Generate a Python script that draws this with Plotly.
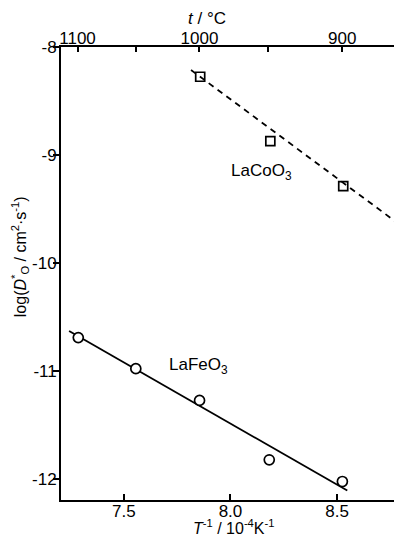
import plotly.graph_objects as go

# Data
co_x = [7.858, 8.187, 8.529]
co_y = [-8.275, -8.870, -9.287]
co_fit_x = [7.815, 8.80]
co_fit_y = [-8.213, -9.652]

fe_x = [7.286, 7.556, 7.855, 8.182, 8.525]
fe_y = [-10.688, -10.975, -11.269, -11.818, -12.019]
fe_fit_x = [7.243, 8.548]
fe_fit_y = [-10.627, -12.102]

x_ticks = [7.5, 8.0, 8.5]
x_ticklabels = ["7.5", "8.0", "8.5"]
y_ticks = [-8, -9, -10, -11, -12]
y_ticklabels = ["-8", "-9", "-10", "-11", "-12"]
top_temps_c = [1100, 1050, 1000, 950, 900]
top_ticklabels = ["1100", "", "1000", "", "900"]
top_tickvals = [1e4 / (t + 273.15) for t in top_temps_c]

x_range = [7.205, 8.80]
y_range = [-12.19, -8.0]

FONT = "Liberation Sans, Arial, sans-serif"
FS = 17

fig = go.Figure()
fig.add_trace(go.Scatter(x=co_fit_x, y=co_fit_y, mode="lines",
                         line=dict(color="black", width=1.8, dash="6px,5px"),
                         showlegend=False, hoverinfo="skip"))
fig.add_trace(go.Scatter(x=fe_fit_x, y=fe_fit_y, mode="lines",
                         line=dict(color="black", width=1.8),
                         showlegend=False, hoverinfo="skip"))
fig.add_trace(go.Scatter(x=co_x, y=co_y, mode="markers",
                         marker=dict(symbol="square-open", size=9, color="black",
                                     line=dict(width=1.7, color="black")),
                         showlegend=False))
fig.add_trace(go.Scatter(x=fe_x, y=fe_y, mode="markers",
                         marker=dict(symbol="circle", size=10, color="white",
                                     line=dict(width=1.7, color="black")),
                         showlegend=False))
# invisible trace to activate top axis
fig.add_trace(go.Scatter(x=[x_range[0]], y=[y_range[0]], xaxis="x2", mode="markers",
                         marker=dict(opacity=0), showlegend=False, hoverinfo="skip"))

fig.update_layout(
    width=394, height=531,
    margin=dict(l=53, r=1, t=39, b=39, autoexpand=False),
    paper_bgcolor="white", plot_bgcolor="white",
    font=dict(family=FONT, size=FS, color="black"),
    xaxis=dict(range=x_range, tickvals=x_ticks, ticktext=x_ticklabels,
               ticks="inside", ticklen=6, tickwidth=1.5, tickcolor="black",
               ticklabelstandoff=-5,
               showline=True, linecolor="black", linewidth=1.8, mirror=True,
               showgrid=False, zeroline=False,
               tickfont=dict(family=FONT, size=FS, color="black")),
    xaxis2=dict(range=x_range, overlaying="x", side="top",
                tickvals=top_tickvals, ticktext=top_ticklabels,
                ticks="inside", ticklen=5, tickwidth=1.5, tickcolor="black",
                ticklabelstandoff=-1,
                showline=False, showgrid=False, zeroline=False,
                tickfont=dict(family=FONT, size=FS, color="black")),
    yaxis=dict(range=y_range, tickvals=y_ticks, ticktext=y_ticklabels,
               ticks="outside", ticklen=6, tickwidth=1.5, tickcolor="black",
               ticklabelstandoff=-7,
               showline=True, linecolor="black", linewidth=1.8, mirror=True,
               showgrid=False, zeroline=False,
               tickfont=dict(family=FONT, size=FS, color="black")),
    annotations=[
        dict(text="<i>t</i> / °C", xref="paper", yref="paper", x=0.429, y=1.0,
             yshift=29, showarrow=False, font=dict(size=FS), xanchor="center", yanchor="middle"),
        dict(text="<i>T</i><sup>-1</sup> / 10<sup>-4</sup>K<sup>-1</sup>", xref="paper", yref="paper",
             x=0.506, y=0, yshift=-27, showarrow=False, font=dict(size=16),
             xanchor="center", yanchor="middle"),
        dict(text="log(<i>D</i><sup>*</sup><sub>O</sub> / cm<sup>2</sup>·s<sup>-1</sup>)",
             xref="paper", yref="paper", x=0, xshift=-41, y=0.536, textangle=-90,
             showarrow=False, font=dict(size=16), xanchor="center", yanchor="middle"),
        dict(text="LaCoO<sub>3</sub>", xref="x", yref="y", x=8.145, y=-9.157,
             showarrow=False, font=dict(size=FS), xanchor="center", yanchor="middle"),
        dict(text="LaFeO<sub>3</sub>", xref="x", yref="y", x=7.85, y=-10.954,
             showarrow=False, font=dict(size=FS), xanchor="center", yanchor="middle"),
    ],
)

fig.write_html("out.html")
